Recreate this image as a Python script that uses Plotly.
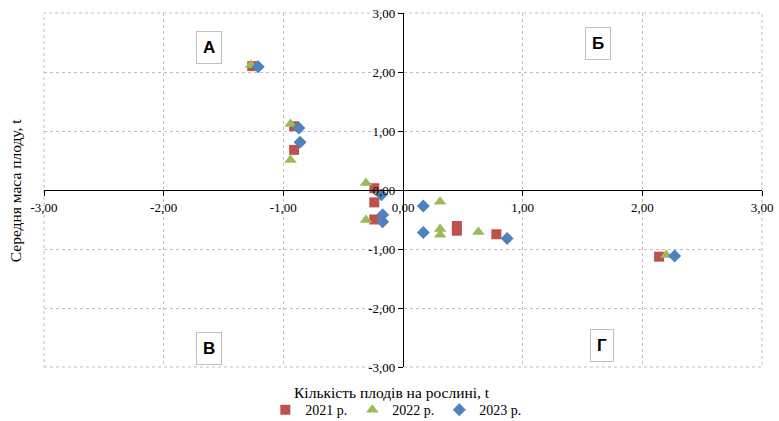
import plotly.graph_objects as go

# Fruit count (x) vs mean fruit mass (y), standardized values per year
x_2021 = [-1.26, -0.91, -0.91, -0.24, -0.24, -0.24, 0.45, 0.45, 0.78, 2.14]
y_2021 = [2.10, 1.08, 0.68, 0.03, -0.21, -0.50, -0.61, -0.69, -0.75, -1.13]

x_2022 = [-1.27, -0.94, -0.94, -0.31, -0.31, 0.31, 0.31, 0.31, 0.63, 2.20]
y_2022 = [2.12, 1.12, 0.51, 0.12, -0.51, -0.20, -0.66, -0.76, -0.71, -1.10]

x_2023 = [-1.21, -0.87, -0.86, -0.18, -0.17, -0.17, 0.17, 0.17, 0.87, 2.27]
y_2023 = [2.09, 1.05, 0.81, -0.08, -0.42, -0.54, -0.27, -0.72, -0.82, -1.12]

tick_vals = [-3, -2, -1, 0, 1, 2, 3]
tick_text = ["-3,00", "-2,00", "-1,00", "0,00", "1,00", "2,00", "3,00"]

quadrant_labels = ["А", "Б", "В", "Г"]
quadrant_x = [-1.62, 1.63, -1.62, 1.66]
quadrant_y = [2.42, 2.49, -2.68, -2.64]

serif = "Liberation Serif, Times New Roman, serif"

fig = go.Figure()
fig.add_trace(go.Scatter(x=x_2021, y=y_2021, mode="markers", name="2021 р.",
                         marker=dict(symbol="square", size=10, color="#C0504D")))
fig.add_trace(go.Scatter(x=x_2022, y=y_2022, mode="markers", name="2022 р.",
                         marker=dict(symbol="triangle-up", size=11, color="#9BBB59")))
fig.add_trace(go.Scatter(x=x_2023, y=y_2023, mode="markers", name="2023 р.",
                         marker=dict(symbol="diamond", size=10, color="#4F81BD")))

axis_common = dict(
    range=[-3, 3], tickvals=tick_vals, ticktext=tick_text,
    showgrid=True, gridcolor="#bfbfbf", griddash="dot", gridwidth=1,
    zeroline=False, showline=True, linecolor="#000000", linewidth=1.3,
    ticks="outside", ticklen=5, tickcolor="#000000",
    tickfont=dict(family=serif, size=13, color="#000000"),
    anchor="free", position=0.5,
)

fig.update_layout(
    width=779, height=421,
    margin=dict(l=44, r=17, t=13, b=54, autoexpand=False),
    paper_bgcolor="white", plot_bgcolor="white",
    xaxis=axis_common,
    yaxis=axis_common,
    showlegend=True,
    legend=dict(orientation="h", x=0.49, xanchor="center", y=-0.122, yanchor="middle",
                font=dict(family=serif, size=14, color="#000000"),
                itemwidth=30, tracegroupgap=0, bgcolor="rgba(0,0,0,0)"),
)

# plot-area frame (dotted like the grid)
fig.add_shape(type="rect", xref="paper", yref="paper", x0=0, y0=0, x1=1, y1=1,
              line=dict(color="#bfbfbf", width=1, dash="dot"), layer="below")

# axis titles
fig.add_annotation(text="Кількість плодів на рослині, t", xref="paper", yref="paper",
                   x=0.485, y=-0.072, xanchor="center", yanchor="middle", showarrow=False,
                   font=dict(family=serif, size=15.5, color="#000000"))
fig.add_annotation(text="Середня маса плоду, t", xref="paper", yref="paper",
                   x=-0.04, y=0.5, xanchor="center", yanchor="middle", showarrow=False,
                   textangle=-90, font=dict(family=serif, size=15.5, color="#000000"))

# quadrant labels in boxes
for lab, qx, qy in zip(quadrant_labels, quadrant_x, quadrant_y):
    fig.add_annotation(text="<b>" + lab + "</b>", x=qx, y=qy, xref="x", yref="y",
                       showarrow=False, bgcolor="white", bordercolor="#bfbfbf",
                       borderwidth=1, borderpad=6,
                       font=dict(family="Liberation Sans, Arial, sans-serif", size=17,
                                 color="#000000"))

fig.write_html("out.html")
